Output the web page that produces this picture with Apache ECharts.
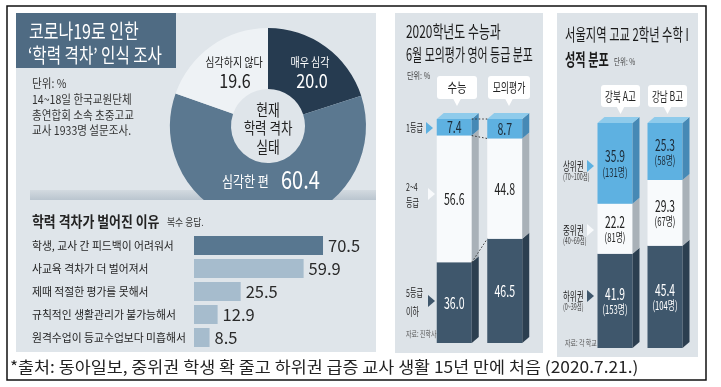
<!DOCTYPE html>
<html><head><meta charset="utf-8">
<script src="https://cdn.jsdelivr.net/npm/echarts@6/dist/echarts.min.js"></script>
<style>html,body{margin:0;padding:0;background:#fff}#c{width:721px;height:387px}</style>
</head><body><div id="c"></div>
<script>
// ---- Data ----
const pieNames = ['매우 심각', '심각한 편', '심각하지 않다'];
const pieValues = [20.0, 60.4, 19.6];

const reasonCats = ['학생, 교사 간 피드백이 어려워서', '사교육 격차가 더 벌어져서', '제때 적절한 평가를 못해서', '규칙적인 생활관리가 불가능해서', '원격수업이 등교수업보다 미흡해서'];
const reasonValues = [70.5, 59.9, 25.5, 12.9, 8.5];

const engCats = ['수능', '모의평가'];
const engLow = [36.0, 46.5];   // 5등급 이하
const engMid = [56.6, 44.8];   // 2~4등급
const engTop = [7.4, 8.7];     // 1등급

const mathCats = ['강북 A고', '강남 B고'];
const mathLow = [41.9, 45.4]; const mathLowN = [153, 104];  // 하위권
const mathMid = [22.2, 29.3]; const mathMidN = [81, 67];    // 중위권
const mathTop = [35.9, 25.3]; const mathTopN = [131, 58];   // 상위권

// ---- Styles ----
const FF = '"Noto Sans CJK KR", "Noto Sans", sans-serif';
const BG = '#dfe5ea';
const BG2 = '#dde3e8';
const pieColors = ['#263b50', '#5b7890', '#eef2f5'];
const COL = {
  blue: {front: '#5eb1e1', side: '#4689b5', top: '#8fcbeb', text: '#1c2b38'},
  white: {front: '#f8fafc', side: '#a9b1b8', top: '#ffffff', text: '#222'},
  dark: {front: '#3f576c', side: '#2c3f50', top: '#56708a', text: '#fff'}
};

function T(x, y, text, size, o) {
  o = o || {};
  return {
    type: 'text', x: x, y: y, scaleX: o.sx || 1, z: o.z || 50,
    style: {
      text: text, fill: o.fill || '#222',
      font: (o.bold ? 'bold ' : '') + size + 'px ' + FF,
      textAlign: o.align || 'left', align: o.align || 'left',
      textVerticalAlign: 'middle', verticalAlign: 'middle'
    }
  };
}
function callout(x, y, w, h, text, sx) {
  const cx = x + w / 2;
  return [
    {type: 'rect', z: 40, shape: {x: x, y: y, width: w, height: h, r: 3}, style: {fill: '#fff'}},
    {type: 'polygon', z: 40, shape: {points: [[cx - 4, y + h - 0.5], [cx + 4, y + h - 0.5], [cx, y + h + 7]]}, style: {fill: '#fff'}},
    T(cx, y + h / 2, text, 13, {sx: sx, align: 'center', fill: '#222'})
  ];
}
function tri(x, y, color) {
  return {type: 'polygon', z: 40, shape: {points: [[x, y - 6], [x + 7, y], [x, y + 6]]}, style: {fill: color}};
}

// ---- 3D stacked bars (custom series) ----
function stackSeries(axisIdx, layers, counts, styles, fontSize) {
  const out = [];
  const n = layers[0].length;
  const cum = new Array(n).fill(0);
  layers.forEach((vals, L) => {
    const isTop = L === layers.length - 1;
    const st = styles[L];
    const data = vals.map((v, i) => {
      const s = cum[i]; cum[i] += v;
      return [i, s, cum[i], v, counts ? counts[L][i] : 0];
    });
    out.push({
      type: 'custom', xAxisIndex: axisIdx, yAxisIndex: axisIdx, silent: true,
      encode: {x: 0, y: [1, 2]}, data: data, z: 5,
      renderItem: function (params, api) {
        const i = api.value(0), s = api.value(1), e = api.value(2), v = api.value(3), c = api.value(4);
        const pB = api.coord([i, s]), pT = api.coord([i, e]);
        const w = 35, dx = 7, dy = -6;
        const x = pB[0] - w / 2, yB = pB[1], yT = pT[1];
        const ch = [
          {type: 'rect', shape: {x: x, y: yT, width: w, height: yB - yT}, style: {fill: st.front}},
          {type: 'polygon', shape: {points: [[x + w, yT], [x + w + dx, yT + dy], [x + w + dx, yB + dy], [x + w, yB]]}, style: {fill: st.side}}
        ];
        if (isTop) ch.push({type: 'polygon', shape: {points: [[x, yT], [x + dx, yT + dy], [x + w + dx, yT + dy], [x + w, yT]]}, style: {fill: st.top}});
        const cx = x + w / 2, cy = (yT + yB) / 2;
        if (counts) {
          ch.push({type: 'text', x: cx, y: cy - 7, scaleX: 0.64, style: {text: v.toFixed(1), fill: st.text, font: fontSize + 'px ' + FF, align: 'center', verticalAlign: 'middle'}});
          ch.push({type: 'text', x: cx, y: cy + 9, scaleX: 0.64, style: {text: '(' + c + '명)', fill: st.text, font: '12px ' + FF, align: 'center', verticalAlign: 'middle'}});
        } else {
          ch.push({type: 'text', x: cx, y: cy, scaleX: 0.66, style: {text: v.toFixed(1), fill: st.text, font: fontSize + 'px ' + FF, align: 'center', verticalAlign: 'middle'}});
        }
        return {type: 'group', children: ch};
      }
    });
  });
  return out;
}

// connectors between English bars
const engB0 = [engLow[0] + engMid[0] + engTop[0], engLow[0] + engMid[0], engLow[0]];
const engB1 = [engLow[1] + engMid[1] + engTop[1], engLow[1] + engMid[1], engLow[1]];
const connector = {
  type: 'custom', xAxisIndex: 1, yAxisIndex: 1, silent: true, z: 6,
  encode: {x: 0, y: [1, 2]},
  data: engB0.map((b, k) => [0, b, engB1[k]]),
  renderItem: function (params, api) {
    const p0 = api.coord([0, api.value(1)]), p1 = api.coord([1, api.value(2)]);
    return {type: 'line', shape: {x1: p0[0] + 17.5, y1: p0[1], x2: p1[0] - 17.5, y2: p1[1]},
      style: {stroke: '#333', lineWidth: 1, lineDash: [1.5, 2]}};
  }
};

// ---- Graphic ----
const G = [];
// panels
G.push({type: 'rect', z: 0, shape: {x: 16, y: 13, width: 360, height: 339}, style: {fill: BG}});
G.push({type: 'rect', z: 0, shape: {x: 395, y: 13, width: 148, height: 340}, style: {fill: BG2}});
G.push({type: 'rect', z: 0, shape: {x: 557, y: 13, width: 141, height: 344}, style: {fill: BG2}});
// left title
G.push({type: 'rect', z: 1, shape: {x: 16, y: 13, width: 160, height: 55}, style: {fill: '#4f6b83'}});
G.push(T(29, 31, '코로나19로 인한', 20, {sx: 0.8, fill: '#fff'}));
G.push(T(28, 55, '‘학력 격차’ 인식 조사', 20, {sx: 0.78, fill: '#fff'}));
G.push(T(32, 83, '단위: %', 12, {sx: 0.88, fill: '#333'}));
G.push(T(32, 99, '14~18일 한국교원단체', 12, {sx: 0.88, fill: '#333'}));
G.push(T(32, 115, '총연합회 소속 초중고교', 12, {sx: 0.88, fill: '#333'}));
G.push(T(32, 130, '교사 1933명 설문조사.', 12, {sx: 0.88, fill: '#333'}));
// shelf band and cover below pie
G.push({type: 'rect', z: 1, shape: {x: 30, y: 190, width: 346, height: 10},
  style: {fill: {type: 'linear', x: 0, y: 0, x2: 0, y2: 1, colorStops: [{offset: 0, color: '#d3dae0'}, {offset: 1, color: '#bac5cf'}]}}});
G.push({type: 'rect', z: 100, shape: {x: 150, y: 200, width: 226, height: 32}, style: {fill: BG}});
// pie labels
G.push(T(234, 62, pieNames[2], 12.5, {sx: 0.8, align: 'center', fill: '#222'}));
G.push(T(235, 81, pieValues[2].toFixed(1), 19, {sx: 0.85, align: 'center', fill: '#222'}));
G.push(T(310, 62, pieNames[0], 12.5, {sx: 0.8, align: 'center', fill: '#fff'}));
G.push(T(312, 81, pieValues[0].toFixed(1), 19, {sx: 0.85, align: 'center', fill: '#fff'}));
G.push(T(268, 110, '현재', 16, {sx: 0.8, align: 'center', fill: '#222'}));
G.push(T(268, 128, '학력 격차', 16, {sx: 0.78, align: 'center', fill: '#222'}));
G.push(T(268, 147, '실태', 16, {sx: 0.8, align: 'center', fill: '#222'}));
G.push(T(222, 181, pieNames[1], 15, {sx: 0.8, fill: '#fff'}));
G.push(T(281, 179, pieValues[1].toFixed(1), 25, {sx: 0.8, fill: '#fff'}));
// bar section title
G.push(T(32, 221, '학력 격차가 벌어진 이유', 15, {sx: 0.86, bold: true, fill: '#222', z: 101}));
G.push(T(167, 222, '복수 응답.', 10, {sx: 0.88, fill: '#333', z: 101}));

// middle panel
G.push(T(406, 32, '2020학년도 수능과', 17, {sx: 0.7, fill: '#1a1a1a'}));
G.push(T(406, 55, '6월 모의평가 영어 등급 분포', 17, {sx: 0.645, fill: '#1a1a1a'}));
G.push(T(407, 75, '단위: %', 9.5, {sx: 0.75, fill: '#444'}));
callout(437, 76, 40, 23, engCats[0], 0.8).forEach(e => G.push(e));
callout(488, 76, 42, 23, engCats[1], 0.68).forEach(e => G.push(e));
G.push(T(406, 128, '1등급', 11, {sx: 0.64, fill: '#222'}));
G.push(tri(426, 128, '#5eb1e1'));
G.push(T(406, 187, '2~4', 11, {sx: 0.64, fill: '#222'}));
G.push(T(406, 203, '등급', 11, {sx: 0.64, fill: '#222'}));
G.push(tri(428, 194, '#f8fafc'));
G.push(T(406, 293, '5등급', 11, {sx: 0.64, fill: '#222'}));
G.push(T(406, 312, '이하', 11, {sx: 0.64, fill: '#222'}));
G.push(tri(428, 301, '#3f576c'));
G.push(T(406, 334, '자료: 진학사', 8.5, {sx: 0.7, fill: '#555'}));

// right panel
G.push(T(565, 35, '서울지역 고교 2학년 수학 I', 17, {sx: 0.665, fill: '#1a1a1a'}));
G.push(T(565, 60, '성적 분포', 17, {sx: 0.66, bold: true, fill: '#1a1a1a'}));
G.push(T(614, 62, '단위: %', 9, {sx: 0.72, fill: '#444'}));
callout(601, 85, 39, 22, mathCats[0], 0.66).forEach(e => G.push(e));
callout(648, 85, 39, 22, mathCats[1], 0.66).forEach(e => G.push(e));
G.push(T(563, 166, '상위권', 12, {sx: 0.62, fill: '#222'}));
G.push(T(563, 177, '(70~100점)', 9, {sx: 0.6, fill: '#444'}));
G.push(tri(587, 166, '#5eb1e1'));
G.push(T(563, 230, '중위권', 12, {sx: 0.62, fill: '#222'}));
G.push(T(563, 241, '(40~69점)', 9, {sx: 0.6, fill: '#444'}));
G.push(tri(587, 230, '#f8fafc'));
G.push(T(563, 296, '하위권', 12, {sx: 0.62, fill: '#222'}));
G.push(T(563, 307, '(0~39점)', 9, {sx: 0.6, fill: '#444'}));
G.push(tri(587, 296, '#3f576c'));
G.push(T(565, 343, '자료: 각 학교', 8.5, {sx: 0.7, fill: '#555'}));

// footnote & border
G.push(T(10, 367, '*출처: 동아일보, 중위권 학생 확 줄고 하위권 급증 교사 생활 15년 만에 처음 (2020.7.21.)', 16, {sx: 1.085, fill: '#222'}));
G.push({type: 'rect', z: 200, shape: {x: 7, y: 6, width: 699, height: 374}, style: {fill: 'none', stroke: '#111', lineWidth: 1.5}});

// ---- Chart ----
const chart = echarts.init(document.getElementById('c'), null, {renderer: 'canvas'});
const hidden = {show: false};
chart.setOption({
  animation: false,
  backgroundColor: '#fff',
  textStyle: {fontFamily: FF},
  grid: [
    {left: 194, top: 234, width: 183, height: 115},
    {left: 429, top: 119, width: 101, height: 224},
    {left: 590, top: 123, width: 100, height: 225}
  ],
  xAxis: [
    {type: 'value', gridIndex: 0, min: 0, max: 100, show: false},
    {type: 'category', gridIndex: 1, data: engCats, show: false},
    {type: 'category', gridIndex: 2, data: mathCats, show: false}
  ],
  yAxis: [
    {type: 'category', gridIndex: 0, data: reasonCats, inverse: true,
      axisLine: hidden, axisTick: hidden, splitLine: hidden,
      axisLabel: {align: 'left', margin: 162, fontSize: 10.8, color: '#1e1e1e', fontFamily: FF}},
    {type: 'value', gridIndex: 1, min: 0, max: 100, show: false},
    {type: 'value', gridIndex: 2, min: 0, max: 100, show: false}
  ],
  graphic: {elements: G},
  series: [
    {type: 'pie', center: [268, 126], radius: [37, 98], startAngle: 90, clockwise: true,
      silent: true, label: {show: false}, labelLine: {show: false}, z: 3,
      itemStyle: {borderWidth: 0},
      data: pieNames.map((n, i) => ({name: n, value: pieValues[i], itemStyle: {color: pieColors[i]}}))},
    {type: 'bar', xAxisIndex: 0, yAxisIndex: 0, barWidth: 19, silent: true,
      data: reasonValues.map((v, i) => ({value: v, itemStyle: {color: i === 0 ? '#587790' : '#a6bccd'}})),
      label: {show: true, position: 'right', distance: 5, fontSize: 16.5, color: '#2a2a2a', fontFamily: FF,
        formatter: p => p.value.toFixed(1)}}
  ]
    .concat(stackSeries(1, [engLow, engMid, engTop], null, [COL.dark, COL.white, COL.blue], 16))
    .concat([connector])
    .concat(stackSeries(2, [mathLow, mathMid, mathTop], [mathLowN, mathMidN, mathTopN], [COL.dark, COL.white, COL.blue], 16))
});
</script>
</body></html>
